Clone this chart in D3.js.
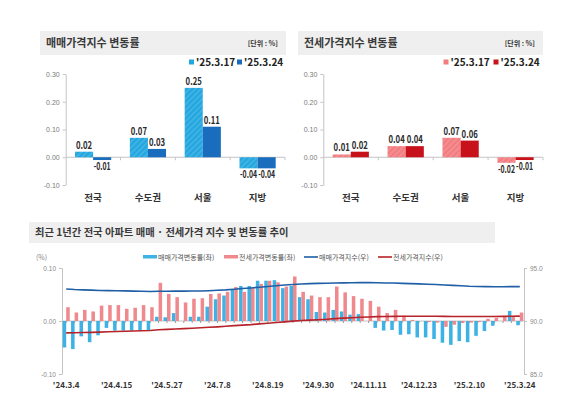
<!DOCTYPE html>
<html>
<head>
<meta charset="utf-8">
<script src="https://cdn.jsdelivr.net/npm/d3@7"></script>
<style>
  body { margin: 0; background: #fff; }
  svg { display: block; font-family: "Noto Sans CJK KR", "Noto Sans", sans-serif; }
</style>
</head>
<body>
<svg id="chart" width="580" height="398"></svg>
<script>
// 상단 막대 차트 데이터 (단위 %)
const regions = ['전국', '수도권', '서울', '지방'];
const seriesDates = ["'25.3.17", "'25.3.24"];
const saleMar17 = [0.02, 0.07, 0.25, -0.04];
const saleMar24 = [-0.01, 0.03, 0.11, -0.04];
const rentMar17 = [0.01, 0.04, 0.07, -0.02];
const rentMar24 = [0.02, 0.04, 0.06, -0.01];
const rateTicks = [-0.10, 0.00, 0.10, 0.20, 0.30];

// 하단 주간 추이 데이터 ('24.3.4 ~ '25.3.24)
const weekTicks = ["'24.3.4", "'24.4.15", "'24.5.27", "'24.7.8", "'24.8.19", "'24.9.30", "'24.11.11", "'24.12.23", "'25.2.10", "'25.3.24"];
const saleRate = [
  -0.050, -0.053, -0.029, -0.040, -0.027, -0.013, -0.018, -0.018, -0.018, -0.018,
  -0.018, 0.008, 0.007, 0.015, 0.000, 0.008, 0.008, 0.027, 0.041, 0.048,
  0.059, 0.066, 0.066, 0.076, 0.076, 0.077, 0.062, 0.066, 0.045, 0.041,
  0.017, 0.016, 0.021, 0.018, 0.012, 0.013, 0.000, -0.013, -0.018, -0.017,
  -0.026, -0.025, -0.031, -0.031, -0.034, -0.041, -0.045, -0.038, -0.040, -0.028,
  -0.019, -0.009, 0.000, 0.019, -0.008
];
const rentRate = [
  0.026, 0.016, 0.021, 0.018, 0.029, 0.030, 0.030, 0.023, 0.025, 0.030,
  0.026, 0.072, 0.051, 0.045, 0.035, 0.042, 0.043, 0.051, 0.052, 0.055,
  0.064, 0.055, 0.062, 0.070, 0.076, 0.073, 0.065, 0.084, 0.055, 0.048,
  0.045, 0.045, 0.065, 0.054, 0.047, 0.042, 0.038, 0.027, 0.015, 0.021,
  0.010, 0.002, 0.000, -0.002, -0.003, -0.011, -0.007, -0.004, -0.003, -0.002,
  0.004, 0.006, 0.009, 0.008, 0.016
];
const saleIndex = [
  93.02, 92.97, 92.94, 92.91, 92.88, 92.87, 92.85, 92.84, 92.82, 92.80,
  92.79, 92.80, 92.80, 92.82, 92.82, 92.83, 92.83, 92.86, 92.90, 92.94,
  93.00, 93.06, 93.12, 93.19, 93.26, 93.33, 93.39, 93.45, 93.49, 93.53,
  93.55, 93.56, 93.58, 93.60, 93.61, 93.62, 93.62, 93.61, 93.59, 93.58,
  93.55, 93.53, 93.50, 93.47, 93.44, 93.40, 93.36, 93.32, 93.28, 93.26,
  93.24, 93.23, 93.23, 93.25, 93.24
];
const rentIndex = [
  88.88, 88.89, 88.91, 88.93, 88.95, 88.98, 89.01, 89.03, 89.05, 89.08,
  89.10, 89.17, 89.21, 89.25, 89.28, 89.32, 89.36, 89.41, 89.45, 89.50,
  89.56, 89.61, 89.66, 89.73, 89.79, 89.86, 89.92, 89.99, 90.04, 90.08,
  90.12, 90.16, 90.22, 90.27, 90.31, 90.35, 90.38, 90.41, 90.42, 90.44,
  90.45, 90.45, 90.45, 90.45, 90.45, 90.44, 90.43, 90.43, 90.42, 90.42,
  90.42, 90.43, 90.44, 90.45, 90.46
];
const leftTicks = [-0.10, 0.00, 0.10];
const rightTicks = [85, 90, 95];

const svg = d3.select('#chart');
const defs = svg.append('defs');
const axisColor = '#c4c4c4';
const fmt2 = d => d.toFixed(2);

// 빗금 무늬 채우기
function hatch(id, color) {
  const p = defs.append('pattern')
    .attr('id', id)
    .attr('patternUnits', 'userSpaceOnUse')
    .attr('width', 4).attr('height', 4)
    .attr('patternTransform', 'rotate(45)');
  p.append('rect').attr('width', 4).attr('height', 4).attr('fill', color);
  p.append('line')
    .attr('x1', 1).attr('y1', 0).attr('x2', 1).attr('y2', 4)
    .attr('stroke', '#fff').attr('stroke-opacity', 0.22).attr('stroke-width', 1.2);
}
hatch('hatchBlue', '#22a6e0');
hatch('hatchPink', '#f27c7f');

function header(x, y, w, h, title, titleSize) {
  svg.append('rect')
    .attr('x', x).attr('y', y).attr('width', w).attr('height', h)
    .attr('fill', '#efefef');
  svg.append('text')
    .attr('x', x + 6).attr('y', y + h / 2 + titleSize * 0.38)
    .attr('font-size', titleSize).attr('font-weight', 700)
    .attr('fill', '#3a3a3a')
    .text(title);
}

function drawRegionChart(cfg) {
  header(cfg.hx, 31, cfg.hw, 24, cfg.title, 11);
  svg.append('text')
    .attr('x', cfg.hx + cfg.hw - 8).attr('y', 46)
    .attr('text-anchor', 'end')
    .attr('font-size', 7).attr('font-weight', 700).attr('fill', '#333')
    .text('[단위 : %]');

  // 범례
  seriesDates.forEach((d, i) => {
    const lx = cfg.legendX[i];
    svg.append('rect')
      .attr('x', lx).attr('y', 59.5).attr('width', 5).attr('height', 5)
      .attr('fill', cfg.colors[i]);
    svg.append('text')
      .attr('x', lx + 7).attr('y', 65.5)
      .attr('font-size', 10).attr('font-weight', 700).attr('fill', '#222')
      .text(d);
  });

  const y = d3.scaleLinear().domain([-0.10, 0.30]).range([185, 74]);
  const x0 = d3.scaleBand().domain(regions)
    .range([cfg.left, cfg.right])
    .paddingInner(0.34).paddingOuter(0.17);
  const x1 = d3.scaleBand().domain([0, 1]).range([0, x0.bandwidth()]);

  const g = svg.append('g');
  const axis = g.append('g')
    .attr('transform', `translate(${cfg.left},0)`)
    .call(d3.axisLeft(y).tickValues(rateTicks).tickFormat(fmt2).tickSize(3).tickSizeOuter(0));
  axis.select('.domain').attr('stroke', axisColor);
  axis.selectAll('.tick line').attr('stroke', axisColor);
  axis.selectAll('.tick text')
    .attr('font-size', 7).attr('fill', '#7a7a7a')
    .attr('font-family', '"Liberation Sans", Arial, sans-serif');

  // 0 기준선과 구분 눈금
  g.append('line')
    .attr('x1', cfg.left).attr('x2', cfg.right)
    .attr('y1', y(0)).attr('y2', y(0))
    .attr('stroke', axisColor);
  g.selectAll('.sep')
    .data(d3.range(1, regions.length + 1))
    .join('line')
    .attr('x1', i => cfg.left + i * x0.step())
    .attr('x2', i => cfg.left + i * x0.step())
    .attr('y1', y(0)).attr('y2', y(0) + 3)
    .attr('stroke', axisColor);

  const rows = [];
  regions.forEach((r, i) => {
    cfg.values.forEach((vals, s) => rows.push({ region: r, s: s, v: vals[i] }));
  });

  g.selectAll('.bar')
    .data(rows)
    .join('rect')
    .attr('x', d => x0(d.region) + x1(d.s))
    .attr('width', x1.bandwidth())
    .attr('y', d => y(Math.max(0, d.v)))
    .attr('height', d => Math.abs(y(d.v) - y(0)))
    .attr('fill', d => cfg.fills[d.s]);

  // 원본의 좁은 숫자체에 맞춰 가로로 눌러 줌
  g.selectAll('.val')
    .data(rows)
    .join('text')
    .attr('text-anchor', 'middle')
    .attr('font-size', 10.5).attr('font-weight', 700).attr('fill', '#2b2b2b')
    .text(d => fmt2(d.v))
    .each(function (d) {
      const w = this.getComputedTextLength();
      const target = d.v < 0 ? 17 : 16.2;
      const tx = x0(d.region) + x1(d.s) + x1.bandwidth() / 2;
      const ty = d.v >= 0 ? y(d.v) - 3 : y(d.v) + 10;
      d3.select(this).attr('transform', `translate(${tx},${ty}) scale(${Math.min(1, target / w)},1)`);
    });

  g.selectAll('.cat')
    .data(regions)
    .join('text')
    .attr('x', d => x0(d) + x0.bandwidth() / 2)
    .attr('y', 201)
    .attr('text-anchor', 'middle')
    .attr('font-size', 9.5).attr('font-weight', 700).attr('fill', '#333')
    .text(d => d);
}

drawRegionChart({
  hx: 40, hw: 246, left: 65.7, right: 285,
  title: '매매가격지수 변동률',
  legendX: [189, 237],
  colors: ['#22a6e0', '#1a6cbc'],
  fills: ['url(#hatchBlue)', '#1a6cbc'],
  values: [saleMar17, saleMar24]
});

drawRegionChart({
  hx: 298, hw: 245, left: 323.3, right: 543,
  title: '전세가격지수 변동률',
  legendX: [443.5, 493.5],
  colors: ['#f27c7f', '#c8121b'],
  fills: ['url(#hatchPink)', '#c8121b'],
  values: [rentMar17, rentMar24]
});

// 하단: 최근 1년간 추이
header(29, 222, 466, 21, '최근 1년간 전국 아파트 매매 · 전세가격 지수 및 변동률 추이', 10.3);

const legendItems = [
  { label: '매매가격변동률(좌)', color: '#3cb3e4', type: 'bar', x: 143 },
  { label: '전세가격변동률(좌)', color: '#f0898d', type: 'bar', x: 224 },
  { label: '매매가격지수(우)', color: '#1f5fa6', type: 'line', x: 304 },
  { label: '전세가격지수(우)', color: '#b7232a', type: 'line', x: 378 }
];
legendItems.forEach(it => {
  svg.append('rect')
    .attr('x', it.x).attr('y', it.type === 'bar' ? 255 : 256.2)
    .attr('width', 14).attr('height', it.type === 'bar' ? 3.5 : 1.6)
    .attr('fill', it.color);
  svg.append('text')
    .attr('x', it.x + 15).attr('y', 259.5)
    .attr('font-size', 7).attr('fill', '#555')
    .text(it.label);
});
svg.append('text')
  .attr('x', 36).attr('y', 260)
  .attr('font-size', 7).attr('fill', '#888')
  .text('(%)');

const plotL = 62, plotR = 524;
const yL = d3.scaleLinear().domain([-0.10, 0.10]).range([374, 268]);
const yR = d3.scaleLinear().domain([85, 95]).range([374, 268]);
const xw = d3.scaleBand().domain(d3.range(saleRate.length))
  .range([plotL, plotR]).paddingInner(0.16).paddingOuter(0.08);
const half = xw.bandwidth() / 2;
const bottom = svg.append('g');

const axL = bottom.append('g')
  .attr('transform', `translate(${plotL},0)`)
  .call(d3.axisLeft(yL).tickValues(leftTicks).tickFormat(fmt2).tickSize(3).tickSizeOuter(0));
const axR = bottom.append('g')
  .attr('transform', `translate(${plotR},0)`)
  .call(d3.axisRight(yR).tickValues(rightTicks).tickFormat(d => d.toFixed(1)).tickSize(3).tickSizeOuter(0));
[axL, axR].forEach(a => {
  a.select('.domain').attr('stroke', axisColor);
  a.selectAll('.tick line').attr('stroke', axisColor);
  a.selectAll('.tick text')
    .attr('font-size', 6.5).attr('fill', '#8a8a8a')
    .attr('font-family', '"Liberation Sans", Arial, sans-serif');
});

bottom.append('line')
  .attr('x1', plotL).attr('x2', plotR)
  .attr('y1', yL(0)).attr('y2', yL(0))
  .attr('stroke', axisColor);
bottom.selectAll('.wk')
  .data(xw.domain())
  .join('line')
  .attr('x1', i => xw(i) + xw.bandwidth() / 2)
  .attr('x2', i => xw(i) + xw.bandwidth() / 2)
  .attr('y1', yL(0)).attr('y2', yL(0) + 2)
  .attr('stroke', '#9a9a9a');

bottom.selectAll('.sale')
  .data(saleRate)
  .join('rect')
  .attr('x', (d, i) => xw(i))
  .attr('width', half)
  .attr('y', d => yL(Math.max(0, d)))
  .attr('height', d => Math.abs(yL(d) - yL(0)))
  .attr('fill', '#3cb3e4');

bottom.selectAll('.rent')
  .data(rentRate)
  .join('rect')
  .attr('x', (d, i) => xw(i) + half)
  .attr('width', half)
  .attr('y', d => yL(Math.max(0, d)))
  .attr('height', d => Math.abs(yL(d) - yL(0)))
  .attr('fill', '#f0898d');

const idxLine = d3.line()
  .x((d, i) => xw(i) + half)
  .y(d => yR(d));
bottom.append('path').datum(saleIndex)
  .attr('d', idxLine).attr('fill', 'none')
  .attr('stroke', '#1f5fa6').attr('stroke-width', 1.6);
bottom.append('path').datum(rentIndex)
  .attr('d', idxLine).attr('fill', 'none')
  .attr('stroke', '#b7232a').attr('stroke-width', 1.6);

bottom.selectAll('.wlabel')
  .data(weekTicks)
  .join('text')
  .attr('x', (d, k) => xw(k * 6) + half)
  .attr('y', 388)
  .attr('text-anchor', 'middle')
  .attr('font-size', 8).attr('font-weight', 700).attr('fill', '#333')
  .text(d => d);
</script>
</body>
</html>
